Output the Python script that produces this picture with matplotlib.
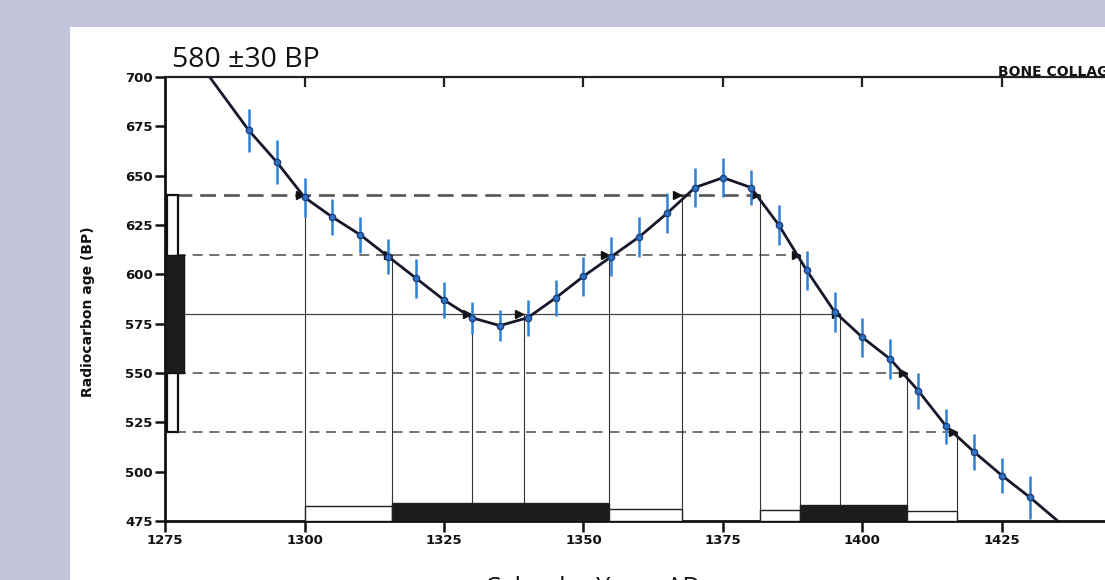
import matplotlib
matplotlib.use("Agg")
import matplotlib.pyplot as plt
from matplotlib.patches import Rectangle

# ---------------- data ----------------
cal_years = [1290, 1295, 1300, 1305, 1310, 1315, 1320, 1325, 1330, 1335, 1340,
             1345, 1350, 1355, 1360, 1365, 1370, 1375, 1380, 1385, 1390, 1395,
             1400, 1405, 1410, 1415, 1420, 1425, 1430]
cal_bp = [673, 657, 639, 629, 620, 609, 598, 587, 578, 574, 578,
          588, 599, 609, 619, 631, 644, 649, 644, 625, 602, 581,
          568, 557, 541, 523, 510, 498, 487]
cal_err = [11, 11, 10, 9, 9, 9, 10, 9, 8, 8, 9,
           9, 10, 10, 10, 10, 10, 10, 9, 10, 10, 10,
           10, 10, 9, 9, 9, 9, 11]
curve_years = [1283] + cal_years + [1435]
curve_bp = [700] + cal_bp + [475]

sample_age = 580
sample_err = 30
level_values = [640, 610, 580, 550, 520]
level_ends = [1381.6, 1388.8, 1396.0, 1408.0, 1417.0]
intercept_years = [[1300, 1367.6, 1381.6],
                   [1315.7, 1354.6, 1388.8],
                   [1330, 1339.3, 1396.0],
                   [1408.0],
                   [1417.0]]

range_start = [1300, 1315.7, 1354.6, 1381.6, 1388.8, 1408.0]
range_end = [1315.7, 1354.6, 1367.6, 1388.8, 1408.0, 1417.0]
range_top = [482.5, 484, 481, 480.5, 483, 480]
range_sigma = [2, 1, 2, 2, 1, 2]

x_ticks = [1275, 1300, 1325, 1350, 1375, 1400, 1425]
y_ticks = [475, 500, 525, 550, 575, 600, 625, 650, 675, 700]

# ---------------- figure ----------------
W, H = 1105, 580
fig = plt.figure(figsize=(W / 100, H / 100), dpi=100)
fig.patch.set_facecolor("#c2c5da")
fig.patches.append(Rectangle((70 / W, 0), 1 - 70 / W, (H - 27) / H,
                             transform=fig.transFigure, facecolor="white",
                             edgecolor="none", zorder=-5))

x0, x1 = 1275, 1450
px_l, px_r = 165, 165 + (x1 - x0) * 5.58
py_t, py_b = 77, 521
ax = fig.add_axes([px_l / W, (H - py_b) / H, (px_r - px_l) / W, (py_b - py_t) / H])
ax.set_zorder(2)
ax.set_facecolor("none")
ax.set_xlim(x0, x1)
ax.set_ylim(475, 700)

# horizontal levels
for lv, end in zip(level_values, level_ends):
    if lv == sample_age:
        ax.plot([1277, end], [lv, lv], color="#444444", lw=0.9, zorder=2)
    elif lv == sample_age + 2 * sample_err:
        ax.plot([1277, end], [lv, lv], color="#555555", lw=1.9,
                dashes=(6, 3), zorder=2)
    else:
        ax.plot([1277, end], [lv, lv], color="#5a5a5a", lw=1.2,
                dashes=(6, 4), zorder=2)

# vertical drop lines and arrowheads
for lv, ys in zip(level_values, intercept_years):
    for yr in ys:
        ax.plot([yr, yr], [475, lv], color="#333333", lw=0.8, zorder=2)
        ax.plot([yr - 0.8], [lv], marker=">", color="#111111", ms=6,
                ls="none", zorder=5)

# calendar ranges at bottom
for s, e, t, sg in zip(range_start, range_end, range_top, range_sigma):
    fc = "#1c1c1c" if sg == 1 else "white"
    ax.bar(s, t - 475, width=e - s, bottom=475, align="edge",
           facecolor=fc, edgecolor="#222222", lw=1.0, zorder=3)

# radiocarbon age bars at left (2 sigma outline, 1 sigma filled)
ax.bar(1275.4, 4 * sample_err, width=2.0, bottom=sample_age - 2 * sample_err,
       align="edge", facecolor="white", edgecolor="#111111", lw=1.6,
       zorder=4, clip_on=False)
ax.bar(1275, 2 * sample_err, width=3.4, bottom=sample_age - sample_err,
       align="edge", facecolor="#1c1c1c", edgecolor="#111111", lw=1.0,
       zorder=5, clip_on=False)

# calibration curve
ax.plot(curve_years, curve_bp, color="#15182a", lw=2.0, zorder=6,
        solid_capstyle="round")
ax.errorbar(cal_years, cal_bp, yerr=cal_err, fmt="o", ms=4.5,
            color="#2f74c8", mfc="#2f74c8", mec="#1d3f7a", mew=1.0,
            ecolor="#2f80d8", elinewidth=1.8, capsize=0, zorder=7)

# axes styling
for sp in ("left", "bottom"):
    ax.spines[sp].set_linewidth(2.0)
    ax.spines[sp].set_color("#111111")
ax.spines["top"].set_linewidth(1.6)
ax.spines["top"].set_color("#222222")
ax.spines["right"].set_visible(False)

tick_font = dict(family="DejaVu Sans", weight="bold", size=9.5)
ax.set_yticks(y_ticks)
ax.set_yticklabels([str(v) for v in y_ticks], **tick_font)
ax.set_xticks(x_ticks)
ax.set_xticklabels([str(v) for v in x_ticks], **tick_font)
ax.tick_params(axis="y", direction="out", length=7, width=1.8, pad=2,
               colors="#111111")
ax.tick_params(axis="x", direction="out", length=8, width=1.8, pad=1,
               colors="#111111")
top = ax.secondary_xaxis("top")
top.set_xticks(x_ticks[1:])
top.tick_params(direction="in", length=7, width=1.6, labeltop=False,
                colors="#222222")
top.spines["top"].set_visible(False)

fig.text(88 / W, 1 - 312 / H, "Radiocarbon age (BP)", rotation=90,
         ha="center", va="center", fontsize=10, fontweight="bold",
         family="DejaVu Sans", color="#111111")
fig.text(172 / W, 1 - 67 / H, "580 \u00b130 BP", ha="left", va="baseline",
         fontsize=20.5, family="Open Sans", color="#111111")
fig.text(998 / W, 1 - 76 / H, "BONE COLLAGEN", ha="left", va="baseline",
         fontsize=10, fontweight="bold", family="DejaVu Sans",
         color="#111111")
fig.text(593 / W, 1 - 576 / H, "Calendar Years AD", ha="center", va="top",
         fontsize=18, family="Open Sans", color="#111111")

fig.savefig("out.png", dpi=100, facecolor=fig.get_facecolor())
